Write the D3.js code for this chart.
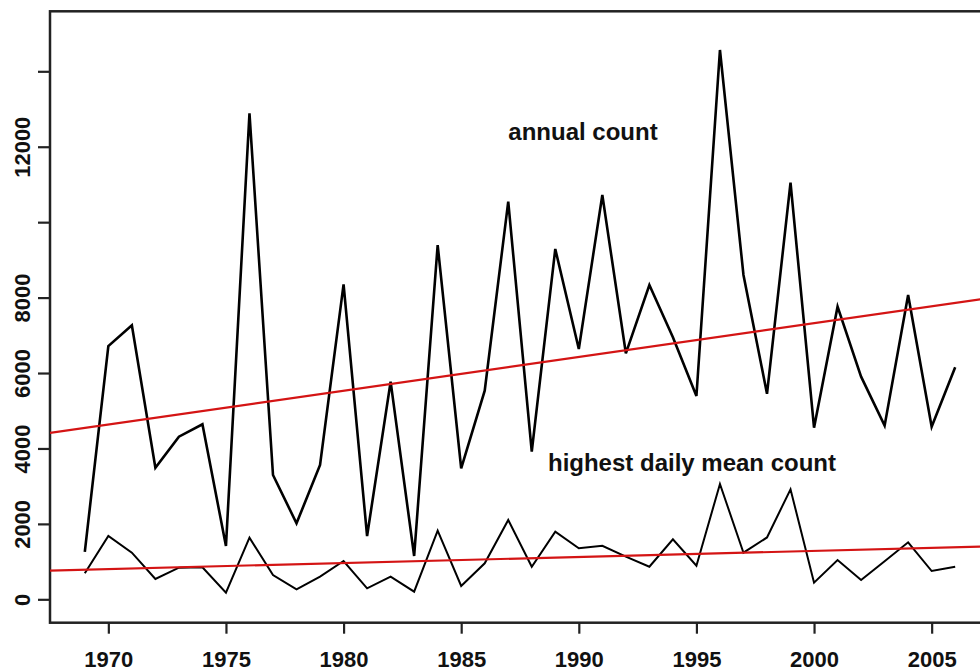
<!DOCTYPE html>
<html>
<head>
<meta charset="utf-8">
<script src="https://cdn.jsdelivr.net/npm/d3@7"></script>
<style>
  html, body { margin: 0; padding: 0; background: #fff; }
  svg { display: block; }
  text { font-family: "Liberation Sans", Arial, Helvetica, sans-serif; font-weight: bold; fill: #111; }
</style>
</head>
<body>
<div id="chart"></div>
<script>
// data
const YEARS = d3.range(1969, 2007);
const ANNUAL_COUNT = [
  1260, 6716, 7265, 3490, 4312, 4640, 1413, 12886, 3296, 2015,
  3561, 8352, 1678, 5770, 1148, 9394, 3473, 5532, 10543, 3914,
  9288, 6637, 10720, 6523, 8334, 6950, 5390, 14565, 8600, 5450,
  11047, 4551, 7759, 5903, 4604, 8069, 4577, 6152
];
const DAILY_MAX = [
  689, 1678, 1236, 538, 838, 848, 175, 1634, 644, 265,
  600, 1016, 291, 600, 203, 1820, 353, 955, 2103, 865,
  1793, 1352, 1421, 1130, 865, 1591, 891, 3057, 1236, 1640,
  2917, 441, 1042, 512, 1010, 1511, 750, 865
];
// fitted linear trends, value at first and last year
const TREND_YEARS = [1969, 2006];
const ANNUAL_TREND = [4545, 7859];
const DAILY_TREND = [787, 1379];

const X_TICKS = d3.range(1970, 2006, 5);
const Y_TICKS = d3.range(0, 14001, 2000);
const Y_LABELS = [0, 2000, 4000, 6000, 8000, 12000];

const W = 980, H = 671;
const box = { left: 50, top: 11.3, right: 990, bottom: 622.7 };

const svg = d3.select('#chart').append('svg')
  .attr('width', W)
  .attr('height', H);

const x = d3.scaleLinear().domain([1967.52, 2007.48]).range([box.left, box.right]);
const y = d3.scaleLinear().domain([-620, 15591]).range([box.bottom, box.top]);

// frame
svg.append('rect')
  .attr('x', box.left).attr('y', box.top)
  .attr('width', box.right - box.left).attr('height', box.bottom - box.top)
  .attr('fill', 'none').attr('stroke', '#222').attr('stroke-width', 2.5);

// axes
const xAxis = svg.append('g')
  .attr('transform', `translate(0,${box.bottom})`)
  .call(d3.axisBottom(x).tickValues(X_TICKS).tickSize(11).tickFormat(d3.format('d')));
xAxis.select('.domain').remove();
xAxis.selectAll('line').attr('stroke', '#222').attr('stroke-width', 2.2);
xAxis.selectAll('text')
  .attr('y', 44).attr('dy', 0)
  .style('font-size', '22px');

const yAxis = svg.append('g')
  .attr('transform', `translate(${box.left},0)`)
  .call(d3.axisLeft(y).tickValues(Y_TICKS).tickSize(12)
    .tickFormat(d => Y_LABELS.includes(d) ? d3.format('d')(d) : ''));
yAxis.select('.domain').remove();
yAxis.selectAll('line').attr('stroke', '#222').attr('stroke-width', 2.2);
yAxis.selectAll('text')
  .attr('transform', 'rotate(-90)')
  .attr('x', 0).attr('y', -20.5).attr('dy', 0)
  .attr('text-anchor', 'middle')
  .style('font-size', '22px');

// series
const line = d3.line().x((d, i) => x(YEARS[i])).y(d => y(d));

svg.append('path')
  .datum(ANNUAL_COUNT)
  .attr('d', line)
  .attr('fill', 'none')
  .attr('stroke', '#000')
  .attr('stroke-width', 2.6)
  .attr('stroke-linejoin', 'miter');

svg.append('path')
  .datum(DAILY_MAX)
  .attr('d', line)
  .attr('fill', 'none')
  .attr('stroke', '#000')
  .attr('stroke-width', 2)
  .attr('stroke-linejoin', 'miter');

// trend lines run across the whole frame
const clip = svg.append('clipPath').attr('id', 'plot-clip')
  .append('rect')
  .attr('x', box.left).attr('y', box.top)
  .attr('width', box.right - box.left).attr('height', box.bottom - box.top);

function trendLine(vals) {
  const slope = (vals[1] - vals[0]) / (TREND_YEARS[1] - TREND_YEARS[0]);
  const [d0, d1] = x.domain();
  const at = yr => vals[0] + (yr - TREND_YEARS[0]) * slope;
  svg.append('line')
    .attr('clip-path', 'url(#plot-clip)')
    .attr('x1', x(d0)).attr('y1', y(at(d0)))
    .attr('x2', x(d1)).attr('y2', y(at(d1)))
    .attr('stroke', '#d41414')
    .attr('stroke-width', 2.2);
}
trendLine(ANNUAL_TREND);
trendLine(DAILY_TREND);

// labels
svg.append('text')
  .attr('x', 583).attr('y', 140)
  .attr('text-anchor', 'middle')
  .style('font-size', '24px')
  .text('annual count');

svg.append('text')
  .attr('x', 692).attr('y', 471)
  .attr('text-anchor', 'middle')
  .style('font-size', '24px')
  .text('highest daily mean count');
</script>
</body>
</html>
